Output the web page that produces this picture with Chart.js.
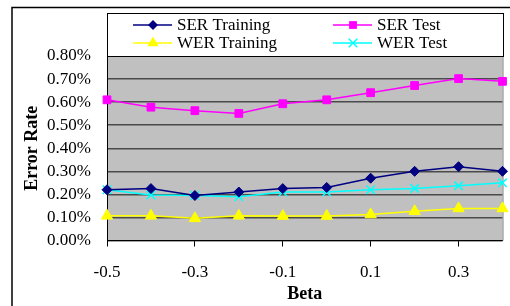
<!DOCTYPE html>
<html>
<head>
<meta charset="utf-8">
<script src="https://cdn.jsdelivr.net/npm/chart.js@4/dist/chart.umd.min.js"></script>
<style>
  body { margin: 0; background: #fff; }
  canvas { display: block; }
</style>
</head>
<body>
<canvas id="line-chart" width="510" height="306"></canvas>
<script>
// values are in percent (0.22 => 0.22%)
var betas = ["-0.5", "-0.4", "-0.3", "-0.2", "-0.1", "0", "0.1", "0.2", "0.3", "0.4"];
var serTraining = [0.22, 0.225, 0.195, 0.21, 0.225, 0.23, 0.27, 0.30, 0.32, 0.30];
var serTest = [0.61, 0.578, 0.563, 0.551, 0.593, 0.61, 0.641, 0.672, 0.702, 0.69];
var werTraining = [0.107, 0.107, 0.096, 0.107, 0.106, 0.106, 0.113, 0.127, 0.139, 0.139];
var werTest = [0.22, 0.197, 0.195, 0.19, 0.21, 0.21, 0.22, 0.226, 0.237, 0.25];
var yTicks = [0, 0.1, 0.2, 0.3, 0.4, 0.5, 0.6, 0.7, 0.8];

var serif = "'Liberation Serif', 'Times New Roman', serif";

function drawMarker(ctx, style, x, y, r, color) {
    ctx.save();
    ctx.fillStyle = color;
    ctx.strokeStyle = color;
    ctx.beginPath();
    if (style === 'rectRot') {
        ctx.moveTo(x, y - r); ctx.lineTo(x + r, y); ctx.lineTo(x, y + r); ctx.lineTo(x - r, y);
        ctx.closePath(); ctx.fill();
    } else if (style === 'rect') {
        var s = r * Math.SQRT1_2;
        ctx.rect(x - s, y - s, 2 * s, 2 * s); ctx.fill();
    } else if (style === 'triangle') {
        ctx.moveTo(x, y - r); ctx.lineTo(x + r * 0.866, y + r * 0.5); ctx.lineTo(x - r * 0.866, y + r * 0.5);
        ctx.closePath(); ctx.fill();
    } else {
        var d = r * Math.SQRT1_2;
        ctx.lineWidth = 1.5;
        ctx.moveTo(x - d, y - d); ctx.lineTo(x + d, y + d);
        ctx.moveTo(x + d, y - d); ctx.lineTo(x - d, y + d);
        ctx.stroke();
    }
    ctx.restore();
}

var frameAndLegend = {
    id: 'frameAndLegend',
    beforeDraw: function(chart) {
        var ctx = chart.ctx, a = chart.chartArea;
        ctx.save();
        ctx.fillStyle = '#c0c0c0';
        ctx.fillRect(a.left, a.top, a.right - a.left, a.bottom - a.top);
        ctx.restore();
    },
    beforeDatasetsDraw: function(chart) {
        var ctx = chart.ctx, a = chart.chartArea;
        ctx.save();
        ctx.strokeStyle = '#808080';
        ctx.lineWidth = 1;
        ctx.beginPath();
        ctx.moveTo(a.right + 0.5, a.top);
        ctx.lineTo(a.right + 0.5, a.bottom);
        ctx.stroke();
        ctx.restore();
    },
    afterDraw: function(chart) {
        var ctx = chart.ctx;
        ctx.save();
        // outer frame
        ctx.strokeStyle = '#000';
        ctx.lineWidth = 1.5;
        ctx.strokeRect(12, 7.5, 600, 400);
        // legend box
        ctx.fillStyle = '#fff';
        ctx.fillRect(107, 13, 396, 43);
        ctx.lineWidth = 1;
        ctx.strokeRect(107.5, 13.5, 396, 43);
        ctx.font = '17px ' + serif;
        ctx.textBaseline = 'middle';
        ctx.textAlign = 'left';
        var cols = [133, 333], rows = [25, 43];
        chart.data.datasets.forEach(function(ds, i) {
            var x = cols[i % 2], y = rows[Math.floor(i / 2)];
            ctx.strokeStyle = ds.borderColor;
            ctx.lineWidth = 1.5;
            ctx.beginPath();
            ctx.moveTo(x, y); ctx.lineTo(x + 39, y);
            ctx.stroke();
            drawMarker(ctx, ds.pointStyle, x + 20, y, ds.pointRadius, ds.pointStyle === 'crossRot' ? ds.borderColor : ds.pointBackgroundColor);
            ctx.fillStyle = '#000';
            ctx.fillText(ds.label, x + 44, y + 1);
        });
        ctx.restore();
    }
};

new Chart(document.getElementById("line-chart"), {
    type: 'line',
    data: {
        labels: betas,
        datasets: [
            { label: "SER Training", data: serTraining, borderColor: "#000080", pointBackgroundColor: "#000080",
              pointBorderColor: "#000080", pointStyle: 'rectRot', pointRadius: 5 },
            { label: "SER Test", data: serTest, borderColor: "#ff00ff", pointBackgroundColor: "#ff00ff",
              pointBorderColor: "#ff00ff", pointStyle: 'rect', pointRadius: 5.5 },
            { label: "WER Training", data: werTraining, borderColor: "#ffff00", pointBackgroundColor: "#ffff00",
              pointBorderColor: "#ffff00", pointStyle: 'triangle', pointRadius: 6.5 },
            { label: "WER Test", data: werTest, borderColor: "#00ffff", pointBackgroundColor: "#00ffff",
              pointBorderColor: "#00ffff", pointStyle: 'crossRot', pointRadius: 6, pointBorderWidth: 1.5 }
        ]
    },
    options: {
        responsive: false,
        animation: false,
        layout: { padding: { top: 56, right: 6, left: 0, bottom: 0 } },
        elements: {
            line: { borderWidth: 1.5, tension: 0 },
            point: { borderWidth: 1, hoverRadius: 5 }
        },
        plugins: { legend: { display: false }, tooltip: { enabled: false } },
        scales: {
            x: {
                offset: false,
                afterFit: function(scale) {
                    scale.height = 65.5;
                    scale.paddingLeft = 0;
                    scale.paddingRight = 0;
                },
                grid: {
                    drawOnChartArea: false, drawTicks: true, tickLength: 6,
                    tickColor: function(c) { return c.index % 2 === 0 ? '#000' : 'rgba(0,0,0,0)'; }
                },
                border: { display: true, color: '#000', width: 1 },
                ticks: {
                    autoSkip: false, maxRotation: 0, padding: 16, color: '#000',
                    font: { family: serif, size: 17 },
                    callback: function(v, i) { return i % 2 === 0 ? betas[i] : ''; }
                },
                title: { display: true, text: 'Beta', color: '#000', padding: { top: 0, bottom: 1 },
                         font: { family: serif, size: 18, weight: 'bold' } }
            },
            y: {
                min: yTicks[0],
                max: yTicks[yTicks.length - 1],
                afterFit: function(scale) {
                    scale.width = 107;
                    scale.paddingTop = 0;
                    scale.paddingBottom = 0;
                },
                afterBuildTicks: function(scale) {
                    scale.ticks = yTicks.map(function(v) { return { value: v }; });
                },
                grid: { color: '#4a4a4a', lineWidth: 1.5, drawTicks: false },
                border: { display: true, color: '#000', width: 1 },
                ticks: {
                    autoSkip: false, stepSize: 0.1, padding: 16, color: '#000',
                    font: { family: serif, size: 17 },
                    callback: function(v) { return v.toFixed(2) + '%'; }
                },
                title: { display: true, text: 'Error Rate', color: '#000', padding: { top: 22, bottom: 0 },
                         font: { family: serif, size: 18, weight: 'bold' } }
            }
        }
    },
    plugins: [frameAndLegend]
});
</script>
</body>
</html>
